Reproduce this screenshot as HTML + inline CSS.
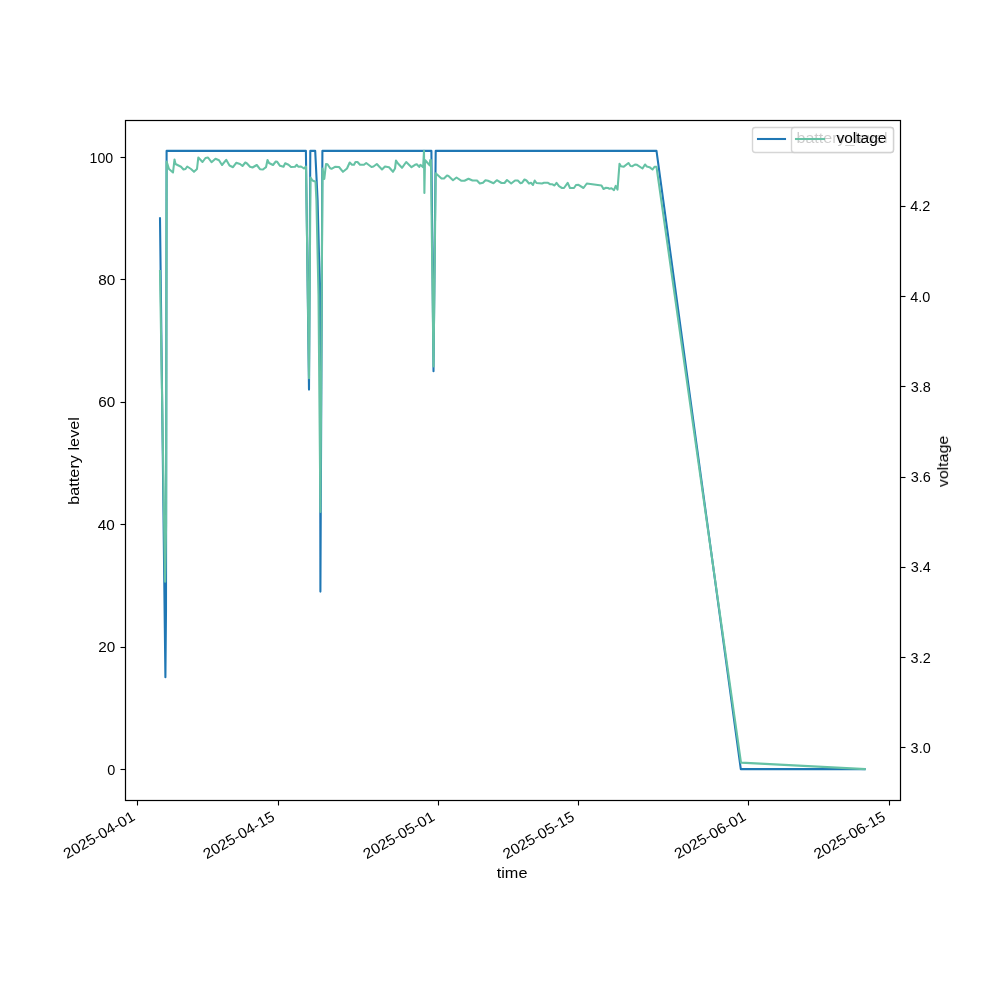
<!DOCTYPE html>
<html lang="en">
<head>
<meta charset="utf-8">
<title>battery level and voltage over time</title>
<style>
html,body{margin:0;padding:0;background:#fff;}
body{width:1000px;height:1000px;overflow:hidden;position:relative;font-family:"Liberation Sans",sans-serif;}
svg{display:block;position:absolute;left:0;top:0;}
svg .t{filter:grayscale(1);}
svg text{font-family:"Liberation Sans",sans-serif;font-size:14.7px;fill:#000;}
</style>
</head>
<body>
<svg width="1000" height="1000" viewBox="0 0 1000 1000">
<rect x="0" y="0" width="1000" height="1000" fill="#ffffff"/>
<!-- tick marks -->
<g stroke="#000" stroke-width="1.11" fill="none">
<line x1="137.5" y1="800.5" x2="137.5" y2="805.5"/>
<line x1="278.5" y1="800.5" x2="278.5" y2="805.5"/>
<line x1="438.5" y1="800.5" x2="438.5" y2="805.5"/>
<line x1="578.5" y1="800.5" x2="578.5" y2="805.5"/>
<line x1="748.5" y1="800.5" x2="748.5" y2="805.5"/>
<line x1="889.5" y1="800.5" x2="889.5" y2="805.5"/>
<line x1="120.5" y1="769.5" x2="125.5" y2="769.5"/>
<line x1="120.5" y1="647.5" x2="125.5" y2="647.5"/>
<line x1="120.5" y1="524.5" x2="125.5" y2="524.5"/>
<line x1="120.5" y1="402.5" x2="125.5" y2="402.5"/>
<line x1="120.5" y1="279.5" x2="125.5" y2="279.5"/>
<line x1="120.5" y1="157.5" x2="125.5" y2="157.5"/>
<line x1="900.5" y1="747.5" x2="905.5" y2="747.5"/>
<line x1="900.5" y1="657.5" x2="905.5" y2="657.5"/>
<line x1="900.5" y1="567.5" x2="905.5" y2="567.5"/>
<line x1="900.5" y1="477.5" x2="905.5" y2="477.5"/>
<line x1="900.5" y1="386.5" x2="905.5" y2="386.5"/>
<line x1="900.5" y1="296.5" x2="905.5" y2="296.5"/>
<line x1="900.5" y1="206.5" x2="905.5" y2="206.5"/>
</g>
<!-- tick labels and axis labels -->
<g class="t">
<text x="136.06" y="819.52" text-anchor="end" textLength="79.70" lengthAdjust="spacingAndGlyphs" transform="rotate(-30 136.06 819.52)">2025-04-01</text>
<text x="275.71" y="819.70" text-anchor="end" textLength="79.70" lengthAdjust="spacingAndGlyphs" transform="rotate(-30 275.71 819.70)">2025-04-15</text>
<text x="435.84" y="819.57" text-anchor="end" textLength="79.70" lengthAdjust="spacingAndGlyphs" transform="rotate(-30 435.84 819.57)">2025-05-01</text>
<text x="575.60" y="819.77" text-anchor="end" textLength="79.70" lengthAdjust="spacingAndGlyphs" transform="rotate(-30 575.60 819.77)">2025-05-15</text>
<text x="747.06" y="819.51" text-anchor="end" textLength="79.70" lengthAdjust="spacingAndGlyphs" transform="rotate(-30 747.06 819.51)">2025-06-01</text>
<text x="886.65" y="819.70" text-anchor="end" textLength="79.70" lengthAdjust="spacingAndGlyphs" transform="rotate(-30 886.65 819.70)">2025-06-15</text>
<text x="107.25" y="775.00" text-anchor="start" textLength="8.05" lengthAdjust="spacingAndGlyphs">0</text>
<text x="98.17" y="652.00" text-anchor="start" textLength="17.00" lengthAdjust="spacingAndGlyphs">20</text>
<text x="97.69" y="530.00" text-anchor="start" textLength="17.00" lengthAdjust="spacingAndGlyphs">40</text>
<text x="98.28" y="407.00" text-anchor="start" textLength="17.00" lengthAdjust="spacingAndGlyphs">60</text>
<text x="98.16" y="285.00" text-anchor="start" textLength="17.00" lengthAdjust="spacingAndGlyphs">80</text>
<text x="89.57" y="163.00" text-anchor="start" textLength="23.60" lengthAdjust="spacingAndGlyphs">100</text>
<text x="910.60" y="753.00" text-anchor="start" textLength="20.10" lengthAdjust="spacingAndGlyphs">3.0</text>
<text x="910.62" y="663.00" text-anchor="start" textLength="20.10" lengthAdjust="spacingAndGlyphs">3.2</text>
<text x="910.65" y="572.00" text-anchor="start" textLength="20.10" lengthAdjust="spacingAndGlyphs">3.4</text>
<text x="910.66" y="482.00" text-anchor="start" textLength="20.10" lengthAdjust="spacingAndGlyphs">3.6</text>
<text x="910.79" y="392.00" text-anchor="start" textLength="20.10" lengthAdjust="spacingAndGlyphs">3.8</text>
<text x="910.31" y="302.00" text-anchor="start" textLength="20.10" lengthAdjust="spacingAndGlyphs">4.0</text>
<text x="910.19" y="211.00" text-anchor="start" textLength="20.10" lengthAdjust="spacingAndGlyphs">4.2</text>
<text x="496.74" y="878.00" text-anchor="start" textLength="30.70" lengthAdjust="spacingAndGlyphs">time</text>
<text x="79.49" y="460.89" text-anchor="middle" textLength="87.70" lengthAdjust="spacingAndGlyphs" transform="rotate(-90 79.49 460.89)">battery level</text>
<text x="948.43" y="461.38" text-anchor="middle" textLength="51.40" lengthAdjust="spacingAndGlyphs" transform="rotate(-90 948.43 461.38)">voltage</text>
</g>
<!-- battery_level series -->
<path d="M160.00,218.20 L165.40,677.30 L166.00,610.00 L166.10,524.30 L166.60,150.90 L305.90,150.90 L309.00,389.60 L310.30,150.90 L315.20,150.90 L317.60,200.00 L320.00,295.00 L320.40,591.60 L322.40,150.90 L431.40,150.90 L433.50,371.30 L435.70,150.90 L656.50,150.90 L740.80,769.10 L864.60,769.10" fill="none" stroke="#1f77b4" stroke-width="2.08" stroke-linejoin="round" stroke-linecap="square"/>
<!-- voltage series (twin axis) -->
<path d="M160.00,271.00 L165.10,581.80 L166.10,524.50 L166.60,161.50 L169.00,169.00 L173.00,172.50 L174.50,159.50 L175.50,164.00 L181.00,166.80 L183.50,169.50 L185.50,169.00 L187.20,166.50 L191.00,169.00 L194.00,171.80 L197.00,169.00 L198.30,157.50 L202.50,162.00 L205.50,158.00 L208.00,157.50 L211.50,162.20 L215.50,158.70 L219.00,160.20 L222.00,165.00 L226.20,159.80 L229.50,165.50 L233.00,167.20 L236.20,162.80 L240.00,164.00 L242.50,166.00 L245.30,162.50 L247.00,163.50 L250.00,166.80 L252.50,167.50 L256.80,165.00 L260.00,169.20 L263.00,169.50 L266.00,167.20 L267.50,160.00 L269.00,163.00 L273.00,165.00 L275.80,161.50 L277.20,161.80 L280.00,165.80 L283.50,166.80 L285.20,163.30 L288.50,164.80 L291.00,167.00 L295.00,166.80 L296.80,164.80 L298.50,166.80 L301.00,166.50 L304.00,168.50 L306.00,166.50 L309.00,378.30 L310.50,177.50 L312.50,180.50 L315.50,181.80 L316.40,200.00 L318.50,295.00 L320.40,512.00 L322.50,168.50 L324.30,179.00 L326.00,164.00 L327.50,164.20 L330.00,168.00 L331.50,168.80 L335.00,166.80 L339.00,167.00 L343.00,171.80 L347.00,168.50 L349.70,162.50 L352.00,164.80 L354.00,164.80 L355.50,162.00 L357.50,162.00 L360.00,164.80 L364.00,164.80 L366.20,163.00 L371.50,167.00 L373.50,166.50 L376.80,164.00 L382.00,169.50 L385.00,166.50 L389.00,167.20 L393.00,171.80 L395.00,168.50 L396.00,160.50 L398.00,163.50 L402.00,167.80 L406.20,162.00 L411.50,167.20 L415.00,164.80 L416.80,164.20 L419.20,166.90 L420.40,164.80 L423.10,167.20 L424.00,150.90 L424.40,193.00 L425.00,160.00 L426.10,161.20 L429.70,165.40 L430.20,160.00 L430.90,160.00 L433.50,366.50 L435.70,173.30 L441.50,178.50 L444.00,178.50 L447.00,175.50 L448.50,176.00 L453.00,180.20 L456.50,177.50 L461.50,180.80 L464.50,180.80 L468.50,178.80 L472.50,180.50 L477.00,180.50 L479.80,183.50 L483.00,182.80 L485.50,180.20 L488.00,180.80 L493.50,183.20 L496.80,180.20 L501.50,183.00 L504.50,183.00 L507.00,180.00 L511.20,183.50 L515.00,180.50 L517.80,180.50 L520.50,183.20 L522.00,182.80 L524.50,179.50 L526.50,180.50 L529.00,183.50 L531.00,182.80 L533.00,185.00 L534.70,180.50 L536.50,183.00 L542.00,183.50 L544.00,182.80 L548.00,182.80 L550.00,184.20 L552.00,184.20 L554.50,185.50 L556.50,182.80 L559.00,186.20 L562.00,188.00 L564.00,188.00 L567.70,182.80 L570.00,188.00 L574.00,188.00 L576.00,185.00 L578.50,184.80 L583.50,188.00 L586.80,183.50 L601.50,185.50 L603.50,189.00 L606.00,187.80 L608.00,188.00 L609.50,188.80 L611.50,188.20 L614.00,190.20 L615.70,185.90 L617.50,189.60 L619.50,163.80 L621.00,166.20 L623.50,166.80 L628.50,163.00 L630.50,166.00 L632.50,166.20 L635.00,164.50 L637.00,164.80 L642.50,168.50 L645.00,164.50 L646.80,166.50 L649.50,167.20 L652.50,169.50 L654.50,166.80 L656.50,166.80 L741.00,762.60 L864.60,769.10" fill="none" stroke="#66c2a5" stroke-width="2.08" stroke-linejoin="round" stroke-linecap="square"/>
<!-- axes frame -->
<rect x="125.5" y="120.5" width="775" height="680" fill="none" stroke="#000" stroke-width="1.214"/>
<!-- legend: battery_level -->
<g>
<rect x="752.5" y="127.5" width="141" height="25" rx="2.78" ry="2.78" fill="#fff" fill-opacity="0.8" stroke="#ccc" stroke-opacity="0.8" stroke-width="1.39"/>
<line x1="756.96" y1="139" x2="786.04" y2="139" stroke="#1f77b4" stroke-width="2.08"/>
<g class="t"><text x="796.50" y="143.00" text-anchor="start" textLength="91.00" lengthAdjust="spacingAndGlyphs">battery_level</text></g>
</g>
<!-- legend: voltage -->
<g>
<rect x="791.5" y="127.5" width="102" height="25" rx="2.78" ry="2.78" fill="#fff" fill-opacity="0.8" stroke="#ccc" stroke-opacity="0.8" stroke-width="1.39"/>
<line x1="794.96" y1="139" x2="825.04" y2="139" stroke="#66c2a5" stroke-width="2.08"/>
<g class="t"><text x="836.49" y="143.00" text-anchor="start" textLength="50.00" lengthAdjust="spacingAndGlyphs">voltage</text></g>
</g>
</svg>
</body>
</html>
